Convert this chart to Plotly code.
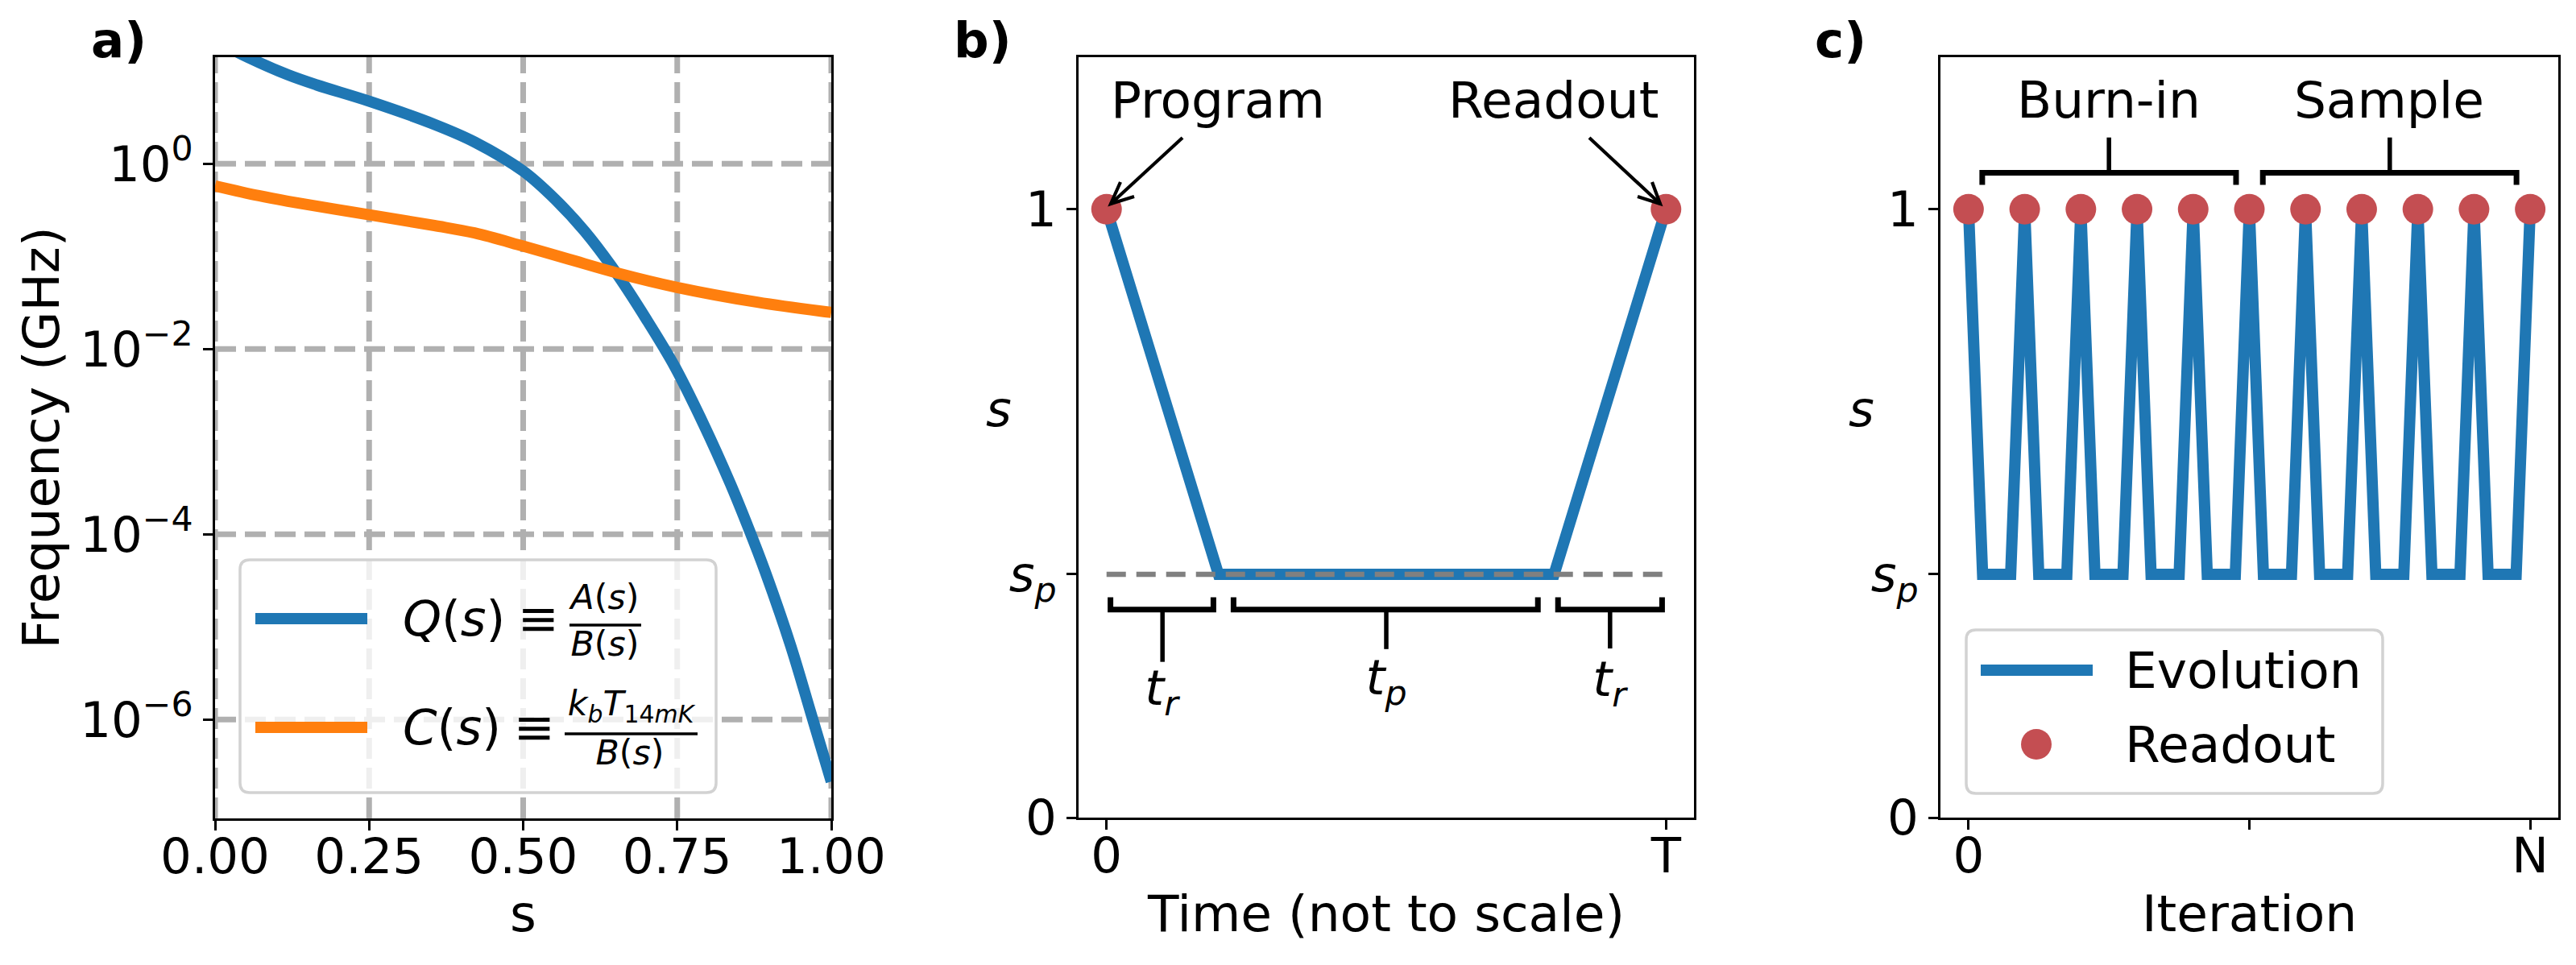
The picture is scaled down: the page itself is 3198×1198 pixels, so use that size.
import plotly.graph_objects as go

W, H = 3198, 1198

# panel a
s_q = [0, 0.0535, 0.118, 0.165, 0.25, 0.356, 0.421, 0.5, 0.552, 0.6, 0.65, 0.7, 0.746, 0.792, 0.836, 0.866, 0.892, 0.934, 0.967, 1.0]
q_ghz = [21.4, 14.06, 9.12, 7.08, 4.73, 2.66, 1.72, 0.832, 0.412, 0.186, 0.0676, 0.0209, 0.00646, 0.00158, 3.55e-4, 1.15e-4, 4.07e-5, 6.31e-6, 1.17e-6, 2.14e-7]
s_c = [0, 0.071, 0.118, 0.25, 0.356, 0.421, 0.5, 0.574, 0.653, 0.75, 0.88, 1.0]
c_ghz = [0.577, 0.452, 0.394, 0.281, 0.215, 0.179, 0.129, 0.0933, 0.0661, 0.0462, 0.032, 0.0248]
a_xticks = [0, 0.25, 0.5, 0.75, 1.0]
a_xlabels = ["0.00", "0.25", "0.50", "0.75", "1.00"]
a_yticks = [1, 1e-2, 1e-4, 1e-6]
a_ylabels = ["10<sup>0</sup>", "10<sup>−2</sup>", "10<sup>−4</sup>", "10<sup>−6</sup>"]

# panel b
time_x = [0, 0.2, 0.8, 1]
time_s = [1, 0.4, 0.4, 1]
readout_x = [0, 1]
readout_s = [1, 1]
sp_x = [0, 1]
sp_s = [0.4, 0.4]

# panel c
iter_x = [0, 0.25, 0.75, 1, 1.25, 1.75, 2, 2.25, 2.75, 3, 3.25, 3.75, 4, 4.25, 4.75, 5, 5.25, 5.75, 6, 6.25, 6.75, 7, 7.25, 7.75, 8, 8.25, 8.75, 9, 9.25, 9.75, 10]
iter_s = [1, 0.4, 0.4, 1, 0.4, 0.4, 1, 0.4, 0.4, 1, 0.4, 0.4, 1, 0.4, 0.4, 1, 0.4, 0.4, 1, 0.4, 0.4, 1, 0.4, 0.4, 1, 0.4, 0.4, 1, 0.4, 0.4, 1]
iter_points = [0, 1, 2, 3, 4, 5, 6, 7, 8, 9, 10]
iter_ones = [1, 1, 1, 1, 1, 1, 1, 1, 1, 1, 1]

s_ticks = [0, 0.4, 1]
s_labels = ["0", "<i>s<sub>p</sub></i>", "1"]

BLUE = "#1f77b4"
ORANGE = "#ff7f0e"
RED = "#c44e52"
GRID = "#b0b0b0"
FONT = "DejaVu Sans"
SIZE = 61
LABEL_SIZE = 63
LW = 14


def fx(px):
    return px / W


def fy(py):
    return 1 - py / H


def path_px(points):
    return "M " + " L ".join(f"{fx(x):.5f} {fy(y):.5f}" for x, y in points)


def rounded_box(x0, y0, x1, y1, r=12):
    return (
        f"M {fx(x0 + r):.5f} {fy(y0):.5f} L {fx(x1 - r):.5f} {fy(y0):.5f} "
        f"Q {fx(x1):.5f} {fy(y0):.5f} {fx(x1):.5f} {fy(y0 + r):.5f} "
        f"L {fx(x1):.5f} {fy(y1 - r):.5f} Q {fx(x1):.5f} {fy(y1):.5f} {fx(x1 - r):.5f} {fy(y1):.5f} "
        f"L {fx(x0 + r):.5f} {fy(y1):.5f} Q {fx(x0):.5f} {fy(y1):.5f} {fx(x0):.5f} {fy(y1 - r):.5f} "
        f"L {fx(x0):.5f} {fy(y0 + r):.5f} Q {fx(x0):.5f} {fy(y0):.5f} {fx(x0 + r):.5f} {fy(y0):.5f} Z"
    )


shapes = []
labels = []


def text_px(x, y, text, size=SIZE, pos="middle center"):
    labels.append((x, y, text, size, pos))


def line_px(points, width, color="black"):
    shapes.append(dict(type="path", xref="paper", yref="paper", path=path_px(points),
                       line=dict(color=color, width=width), layer="above"))


def legend_box(x0, y0, x1, y1):
    # below, so that the text trace stays on top of it
    shapes.append(dict(type="path", xref="paper", yref="paper", path=rounded_box(x0, y0, x1, y1),
                       fillcolor="rgba(255,255,255,0.8)", line=dict(color="#d2d2d2", width=3.5), layer="below"))


def bracket_down(xref, yref, x0, x1, xm, y_bar, y_tick, y_end):
    # bar with small ends pointing at the curve, stem going to the label
    shapes.append(dict(type="path", xref=xref, yref=yref,
                       path=f"M {x0} {y_tick} L {x0} {y_bar} L {x1} {y_bar} L {x1} {y_tick}",
                       line=dict(color="black", width=7), layer="above"))
    shapes.append(dict(type="line", xref=xref, yref=yref, x0=xm, x1=xm, y0=y_bar, y1=y_end,
                       line=dict(color="black", width=5.5), layer="above"))


fig = go.Figure()

# a)
fig.add_trace(go.Scatter(x=s_q, y=q_ghz, mode="lines", name="Q(s)", line=dict(color=BLUE, width=LW, shape="spline", smoothing=1.0), xaxis="x", yaxis="y", showlegend=False))
fig.add_trace(go.Scatter(x=s_c, y=c_ghz, mode="lines", name="C(s)", line=dict(color=ORANGE, width=LW, shape="spline", smoothing=1.0), xaxis="x", yaxis="y", showlegend=False))

# b)
fig.add_trace(go.Scatter(x=time_x, y=time_s, mode="lines", name="Evolution", line=dict(color=BLUE, width=LW), xaxis="x2", yaxis="y2", showlegend=False))
fig.add_trace(go.Scatter(x=sp_x, y=sp_s, mode="lines", name="s_p", line=dict(color="gray", width=6.5, dash="24px,13px"), xaxis="x2", yaxis="y2", showlegend=False))
fig.add_trace(go.Scatter(x=readout_x, y=readout_s, mode="markers", name="Readout", marker=dict(color=RED, size=38), xaxis="x2", yaxis="y2", showlegend=False))

# c)
fig.add_trace(go.Scatter(x=iter_x, y=iter_s, mode="lines", name="Evolution", line=dict(color=BLUE, width=LW), xaxis="x3", yaxis="y3", showlegend=False))
fig.add_trace(go.Scatter(x=iter_points, y=iter_ones, mode="markers", name="Readout", marker=dict(color=RED, size=38), xaxis="x3", yaxis="y3", showlegend=False))

# grid of panel a, as shapes so the edge lines stay and the dashes start where they should
grid_line = dict(color=GRID, width=7, dash="26px,11px")
for t in a_xticks:
    shapes.append(dict(type="line", xref="x", yref="y domain", x0=t, x1=t, y0=0, y1=1, line=grid_line, layer="below"))
for t in a_yticks:
    shapes.append(dict(type="line", xref="x domain", yref="y", x0=0, x1=1, y0=t, y1=t, line=grid_line, layer="below"))

# legend a)
legend_box(298, 695, 889, 984)
line_px([(317, 768), (456, 768)], LW, BLUE)
line_px([(317, 903), (456, 903)], LW, ORANGE)
text_px(500, 774, "<i>Q</i>(<i>s</i>)", pos="middle right")
text_px(668, 774, "≡")
text_px(751, 745, "<i>A</i>(<i>s</i>)", size=42.7)
line_px([(707, 776), (796, 776)], 3.5)
text_px(751, 803, "<i>B</i>(<i>s</i>)", size=42.7)
text_px(500, 909, "<i>C</i>(<i>s</i>)", pos="middle right")
text_px(663, 909, "≡")
text_px(783, 877, "<i>k<sub>b</sub>T</i><sub>14<i>mK</i></sub>", size=42.7)
line_px([(701, 911), (866, 911)], 3.5)
text_px(782, 938, "<i>B</i>(<i>s</i>)", size=42.7)

# b) arrows and labels
text_px(1379, 130, "Program", size=LABEL_SIZE, pos="middle right")
text_px(1798, 130, "Readout", size=LABEL_SIZE, pos="middle right")
line_px([(1468, 171), (1379, 253)], 4.2)
line_px([(1391, 226), (1379, 253), (1408, 244)], 4.2)
line_px([(1973, 171), (2061, 253)], 4.2)
line_px([(2051, 226), (2061, 253), (2033, 244)], 4.2)
bracket_down("x2", "y2", 0.007, 0.191, 0.1, 0.342, 0.362, 0.256)
bracket_down("x2", "y2", 0.227, 0.771, 0.5, 0.342, 0.362, 0.277)
bracket_down("x2", "y2", 0.807, 0.993, 0.9, 0.342, 0.362, 0.278)
text_px(1442, 860, "<i>t<sub>r</sub></i>")
text_px(1721, 847, "<i>t<sub>p</sub></i>")
text_px(1998, 849, "<i>t<sub>r</sub></i>")
text_px(1240, 514, "<i>s</i>")

# c) brackets, labels and legend
bracket_down("x3", "y3", 0.244, 4.763, 2.5, 1.06, 1.04, 1.118)
bracket_down("x3", "y3", 5.24, 9.756, 7.5, 1.06, 1.04, 1.118)
text_px(2618, 130, "Burn-in", size=LABEL_SIZE)
text_px(2966, 130, "Sample", size=LABEL_SIZE)
text_px(2311, 514, "<i>s</i>")
legend_box(2441, 782, 2958, 985)
line_px([(2459, 832), (2598, 832)], LW, BLUE)
shapes.append(dict(type="circle", xref="paper", yref="paper", x0=fx(2509), x1=fx(2547), y0=fy(943), y1=fy(905),
                   fillcolor=RED, line=dict(width=0), layer="above"))
text_px(2638, 838, "Evolution", size=LABEL_SIZE, pos="middle right")
text_px(2638, 930, "Readout", size=LABEL_SIZE, pos="middle right")

text_px(113, 56, "<b>a)</b>", pos="middle right")
text_px(1184, 56, "<b>b)</b>", pos="middle right")
text_px(2253, 56, "<b>c)</b>", pos="middle right")

# every free text sits on a hidden axis pair that spans the whole page in pixels
fig.add_trace(go.Scatter(
    x=[t[0] for t in labels], y=[t[1] for t in labels], text=[t[2] for t in labels],
    mode="text", textposition=[t[4] for t in labels],
    textfont=dict(family=FONT, size=[t[3] for t in labels], color="black"),
    cliponaxis=False, hoverinfo="skip", showlegend=False, xaxis="x4", yaxis="y4",
))

common = dict(
    showgrid=False, zeroline=False, showline=True, mirror=True, linecolor="black", linewidth=3.2,
    ticks="outside", ticklen=12, tickwidth=3.2, tickcolor="black", tickangle=0,
    tickfont=dict(family=FONT, size=SIZE, color="black"), automargin=False,
)
title_font = dict(family=FONT, size=LABEL_SIZE, color="black")

fig.update_layout(
    width=W, height=H, margin=dict(l=0, r=0, t=0, b=0), paper_bgcolor="white", plot_bgcolor="rgba(0,0,0,0)",
    showlegend=False, shapes=shapes,
    xaxis=dict(domain=[fx(267), fx(1032)], range=[0, 1], anchor="y", tickvals=a_xticks, ticktext=a_xlabels, ticklabelstandoff=-20,
               title=dict(text="s", font=title_font, standoff=6), **common),
    yaxis=dict(domain=[fy(1016), fy(71)], type="log", range=[-7.067, 1.15], anchor="x", tickvals=a_yticks, ticktext=a_ylabels,
               title=dict(text="Frequency (GHz)", font=title_font, standoff=6), **common),
    xaxis2=dict(domain=[fx(1339), fx(2103)], range=[-0.05, 1.05], anchor="y2", tickvals=[0, 1], ticktext=["0", "T"], ticklabelstandoff=-20,
                title=dict(text="Time (not to scale)", font=title_font, standoff=16), **common),
    yaxis2=dict(domain=[fy(1015), fy(71)], range=[0, 1.25], anchor="x2", tickvals=s_ticks, ticktext=s_labels, **common),
    xaxis3=dict(domain=[fx(2409), fx(3176)], range=[-0.5, 10.5], anchor="y3", tickvals=[0, 5, 10], ticktext=["0", "", "N"], ticklabelstandoff=-20,
                title=dict(text="Iteration", font=title_font, standoff=16), **common),
    yaxis3=dict(domain=[fy(1015), fy(71)], range=[0, 1.25], anchor="x3", tickvals=s_ticks, ticktext=s_labels, **common),
    xaxis4=dict(domain=[0, 1], range=[0, W], anchor="y4", visible=False, fixedrange=True),
    yaxis4=dict(domain=[0, 1], range=[H, 0], anchor="x4", visible=False, fixedrange=True),
)

fig.write_html("out.html", config={"displayModeBar": False}, post_script="document.body.style.margin='0';")
